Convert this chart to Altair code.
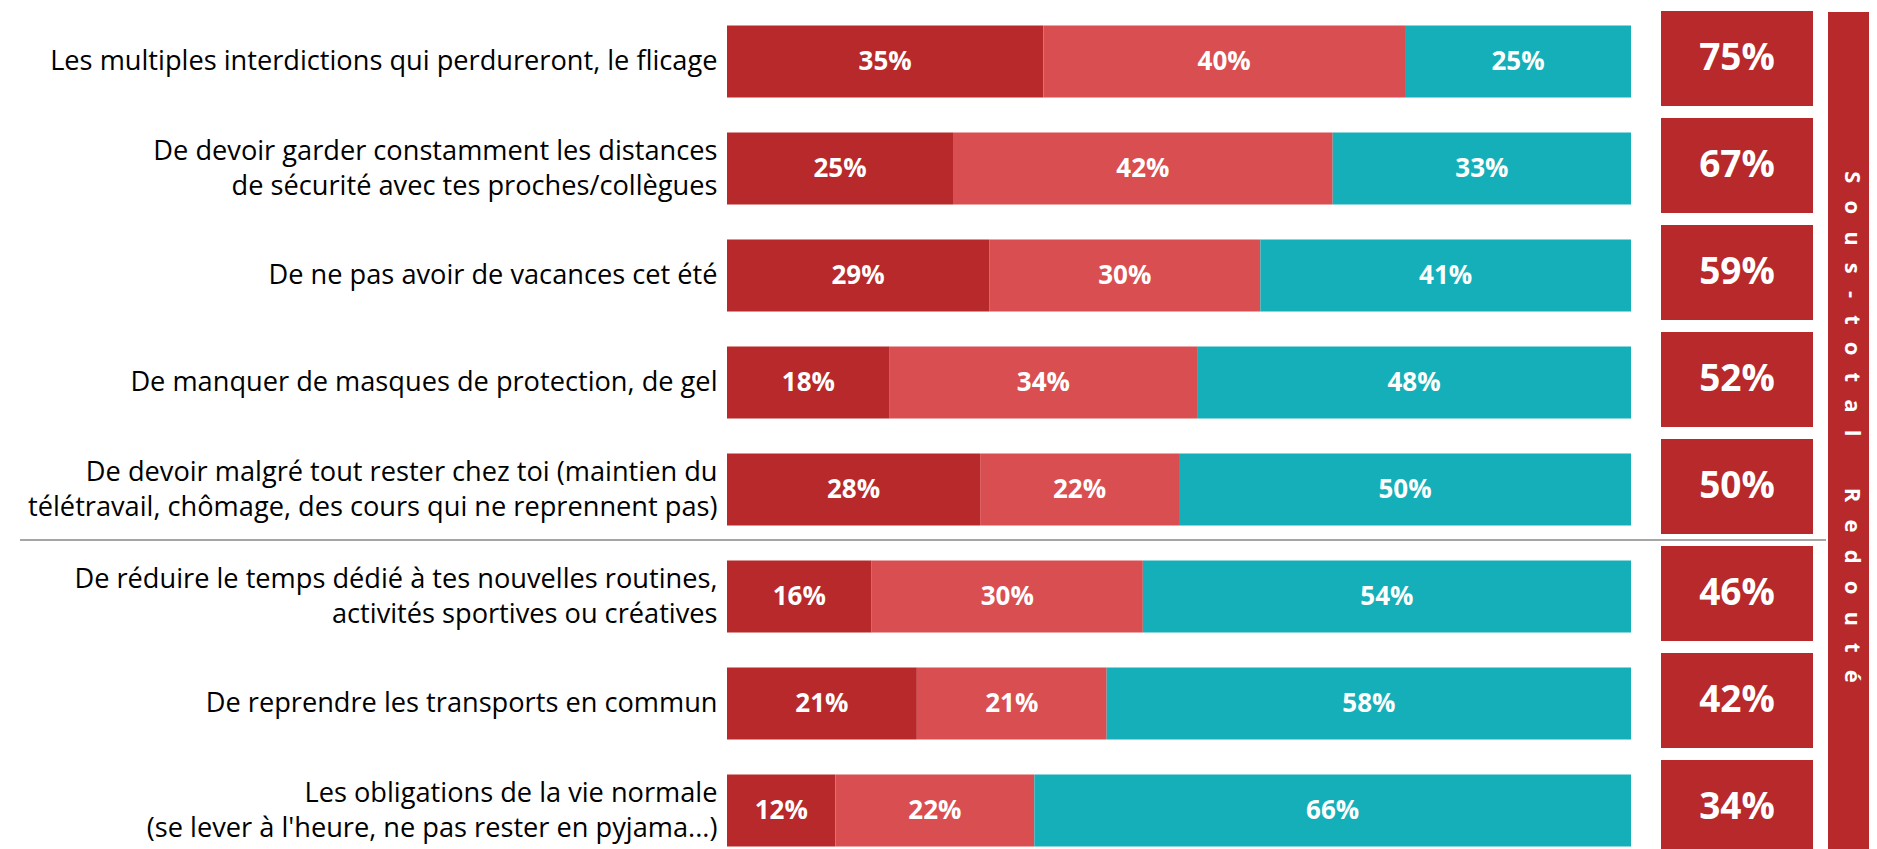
import altair as alt
import pandas as pd

categories = [
    "Les multiples interdictions qui perdureront, le flicage",
    "De devoir garder constamment les distances|de sécurité avec tes proches/collègues",
    "De ne pas avoir de vacances cet été",
    "De manquer de masques de protection, de gel",
    "De devoir malgré tout rester chez toi (maintien du|télétravail, chômage, des cours qui ne reprennent pas)",
    "De réduire le temps dédié à tes nouvelles routines,|activités sportives ou créatives",
    "De reprendre les transports en commun",
    "Les obligations de la vie normale|(se lever à l'heure, ne pas rester en pyjama...)",
]
seg1 = [35, 25, 29, 18, 28, 16, 21, 12]
seg2 = [40, 42, 30, 34, 22, 30, 21, 22]
seg3 = [25, 33, 41, 48, 50, 54, 58, 66]
totals = [75, 67, 59, 52, 50, 46, 42, 34]
segment_keys = ["s1", "s2", "s3"]
segment_colors = ["#B7292A", "#D94E50", "#14AFB8"]
side_title = "Sous-total Redouté"

FONT = "Open Sans"
DARK = "#B7292A"

# long table for stacked bars
rows = []
for i, cat in enumerate(categories):
    start = 0
    for key, vals in zip(segment_keys, [seg1, seg2, seg3]):
        v = vals[i]
        rows.append({"cat": cat, "seg": key, "start": start, "end": start + v,
                     "mid": start + v / 2, "lab": f"{v}%"})
        start += v
bars_df = pd.DataFrame(rows)
tot_df = pd.DataFrame({"cat": categories, "lab": [f"{t}%" for t in totals]})

NB = "\u00a0"
words = side_title.split(" ")
spaced = (NB * 9).join((NB * 3).join(list(w)) for w in words)
side_df = pd.DataFrame({"t": [spaced]})

y_enc = alt.Y(
    "cat:N",
    sort=categories,
    scale=alt.Scale(range=[0, 844], paddingInner=12 / 107, paddingOuter=0),
    axis=alt.Axis(
        title=None, domain=False, ticks=False, grid=False,
        labelExpr="split(datum.label, '|')",
        labelFont=FONT, labelFontSize=27.2, labelColor="#000000",
        labelPadding=10, labelLimit=0, labelLineHeight=35,
        labelOffset={"condition": {"test": "indexof(datum.value, '|') >= 0", "value": -14}, "value": 3},
    ),
)
x_enc = alt.X("start:Q", scale=alt.Scale(domain=[0, 100], range=[0, 904]), axis=None)

bars = alt.Chart(bars_df).mark_bar(size=72, yOffset=3).encode(
    y=y_enc,
    x=x_enc,
    x2="end:Q",
    color=alt.Color("seg:N", scale=alt.Scale(domain=segment_keys, range=segment_colors), legend=None),
)
bar_text = alt.Chart(bars_df).mark_text(
    font=FONT, fontWeight="bold", fontSize=26, color="white", dy=3
).encode(y=y_enc, x=alt.X("mid:Q"), text="lab:N")

boxes = alt.Chart(tot_df).mark_rect(color=DARK).encode(
    y=y_enc, x=alt.value(934), x2=alt.value(1086)
)
box_text = alt.Chart(tot_df).mark_text(
    font=FONT, fontWeight="bold", fontSize=37, color="white"
).encode(y=y_enc, x=alt.value(1010), text="lab:N")

side_band = alt.Chart(side_df).mark_rect(color=DARK).encode(
    x=alt.value(1101), x2=alt.value(1160), y=alt.value(1), y2=alt.value(900)
)
side_text = alt.Chart(side_df).mark_text(
    font=FONT, fontWeight="bold", fontSize=22, color="white", angle=90,
    align="center", baseline="middle"
).encode(x=alt.value(1125), y=alt.value(416), text="t:N")

sep = alt.Chart(side_df).mark_rule(color="#A6A6A6", strokeWidth=2).encode(
    x=alt.value(-707), x2=alt.value(1099), y=alt.value(529)
)

chart = alt.layer(bars, bar_text, boxes, box_text, side_band, side_text, sep).properties(
    width=1142, height=838,
    autosize=alt.AutoSizeParams(type="none"),
    padding={"left": 719, "top": 3, "right": 0, "bottom": 0},
).configure_view(stroke=None)

chart.save("out.html", embed_options={"renderer": "svg", "actions": False})
